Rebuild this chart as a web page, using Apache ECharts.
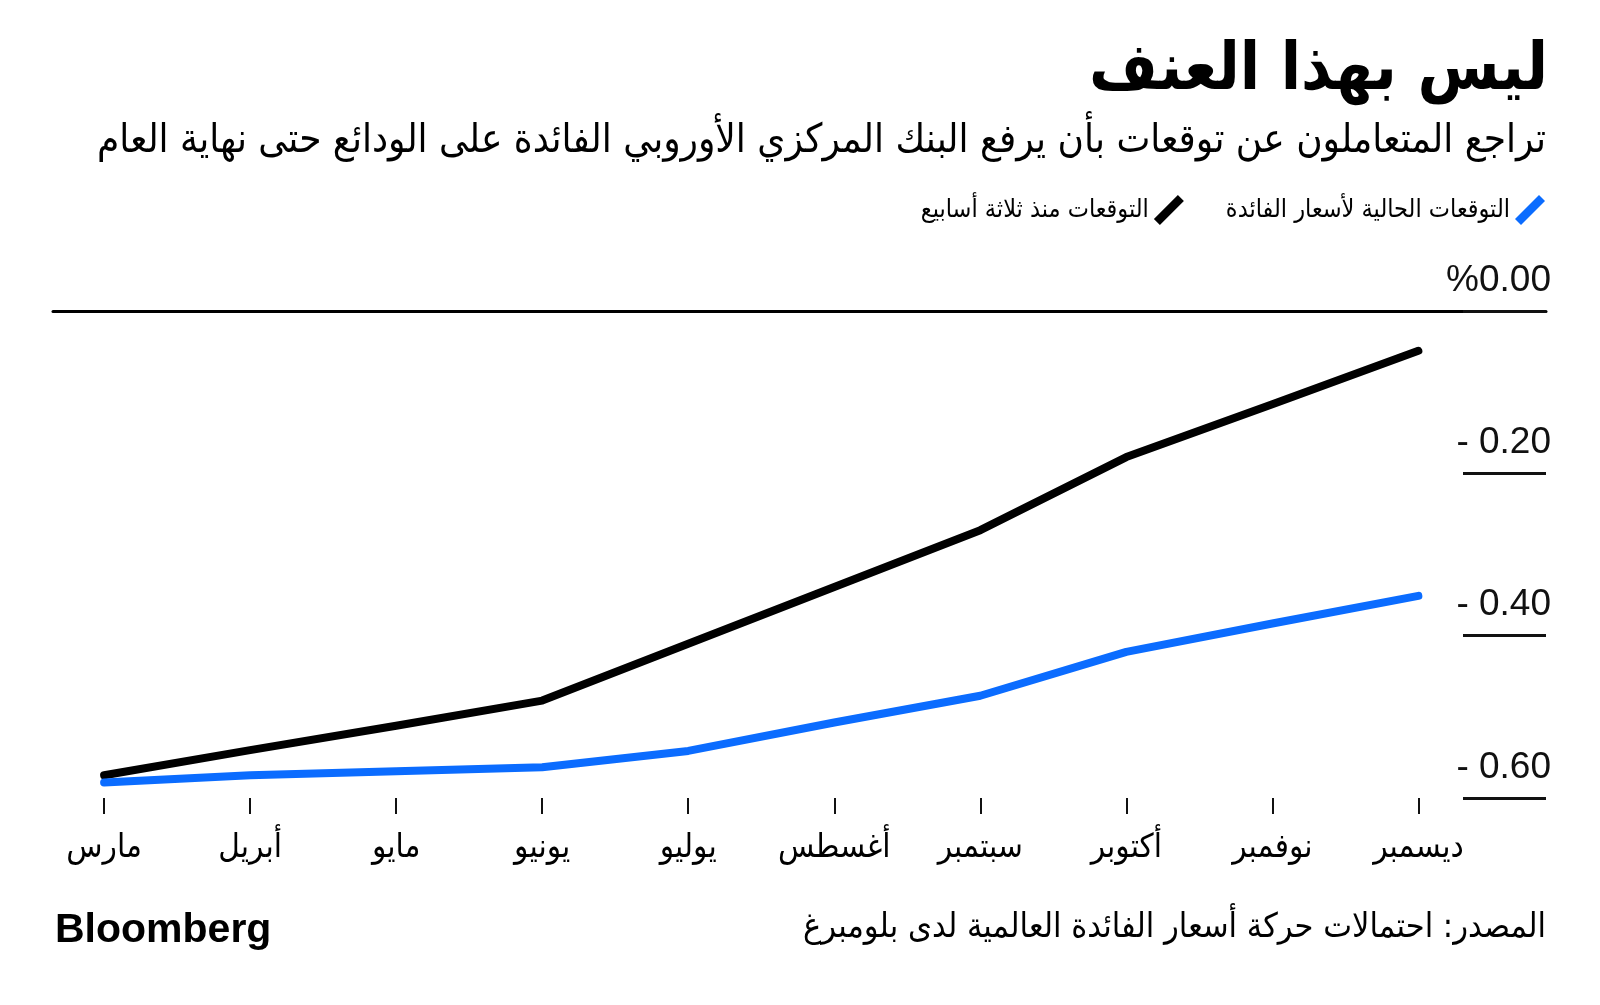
<!DOCTYPE html>
<html>
<head>
<meta charset="utf-8">
<script src="https://cdn.jsdelivr.net/npm/echarts@6/dist/echarts.min.js"></script>
<style>
    html, body { margin: 0; padding: 0; background: #fff; }
    #chart { width: 1600px; height: 1005px; }
</style>
</head>
<body>
<div id="chart"></div>
<script>
const months = ["مارس", "أبريل", "مايو", "يونيو", "يوليو", "أغسطس", "سبتمبر", "أكتوبر", "نوفمبر", "ديسمبر"];
const threeWeeksAgo = [-0.572, -0.541, -0.511, -0.480, -0.410, -0.340, -0.270, -0.180, -0.115, -0.049];
const currentPricing = [-0.581, -0.572, -0.567, -0.562, -0.542, -0.507, -0.474, -0.420, -0.385, -0.351];
const yTicks = [0, -0.2, -0.4, -0.6];

const seriesNames = {
    old: "التوقعات منذ ثلاثة أسابيع",
    now: "التوقعات الحالية لأسعار الفائدة"
};

const arabicFont = "'DejaVu Sans Condensed', 'DejaVu Sans', sans-serif";
const latinFont = "'Liberation Sans', Arial, sans-serif";
const slashIcon = "path://M0,24 L24,0 L30,6 L6,30 Z";

const monthIdx = months.map((m, i) => i);
const chart = echarts.init(document.getElementById("chart"));

chart.setOption({
    backgroundColor: "#ffffff",
    animation: false,
    title: [
        {
            text: "ليس بهذا العنف",
            right: 47,
            top: 28,
            textStyle: { fontFamily: arabicFont, fontSize: 66, fontWeight: "bold", color: "#000", lineHeight: 78 }
        },
        {
            text: "تراجع المتعاملون عن توقعات بأن يرفع البنك المركزي الأوروبي الفائدة على الودائع حتى نهاية العام",
            right: 49,
            top: 111,
            textStyle: { fontFamily: arabicFont, fontSize: 40, fontWeight: "normal", color: "#000", lineHeight: 52 }
        },
        {
            text: "المصدر: احتمالات حركة أسعار الفائدة العالمية لدى بلومبرغ",
            right: 49,
            top: 900,
            textStyle: { fontFamily: arabicFont, fontSize: 34, fontWeight: "normal", color: "#000", lineHeight: 46 }
        },
        {
            text: "Bloomberg",
            left: 50,
            top: 904,
            textStyle: { fontFamily: latinFont, fontSize: 41, fontWeight: 900, color: "#000", lineHeight: 44 }
        }
    ],
    legend: {
        right: 50,
        top: 190,
        align: "right",
        itemWidth: 30,
        itemHeight: 30,
        itemGap: 42,
        textStyle: { fontFamily: arabicFont, fontSize: 25, color: "#000" },
        data: [
            { name: seriesNames.old, icon: slashIcon, itemStyle: { color: "#000" } },
            { name: seriesNames.now, icon: slashIcon, itemStyle: { color: "#0b6cff" } }
        ]
    },
    grid: { left: 53, right: 54, top: 311, bottom: 207 },
    xAxis: [
        {
            type: "value",
            min: -0.35,
            max: 9.874,
            splitLine: { show: false },
            axisLine: { show: false, onZero: false },
            axisTick: {
                show: true,
                customValues: monthIdx,
                length: 16,
                lineStyle: { color: "#111", width: 2 }
            },
            axisLabel: {
                customValues: monthIdx,
                formatter: v => months[Math.round(v)],
                margin: 34,
                fontFamily: arabicFont,
                fontSize: 33,
                color: "#000"
            }
        },
        {
            type: "value",
            position: "top",
            min: -0.35,
            max: 9.874,
            splitLine: { show: false },
            axisLine: { show: true, onZero: false, lineStyle: { color: "#000", width: 3 } },
            axisTick: { show: false },
            axisLabel: { show: false }
        }
    ],
    yAxis: {
        type: "value",
        position: "right",
        min: -0.6,
        max: 0,
        interval: 0.2,
        splitLine: { show: false },
        axisLine: { show: false, onZero: false },
        axisTick: {
            show: true,
            inside: true,
            length: 83,
            lineStyle: { color: "#111", width: 3 }
        },
        axisLabel: {
            inside: true,
            margin: -5,
            verticalAlign: "bottom",
            padding: [0, 0, 12, 0],
            fontFamily: latinFont,
            fontSize: 37,
            color: "#111",
            formatter: v => yTicks.includes(Number(v.toFixed(1)))
                ? (Math.abs(v) < 1e-9 ? "%0.00" : "- " + Math.abs(v).toFixed(2))
                : ""
        }
    },
    series: [
        {
            name: seriesNames.old,
            type: "line",
            xAxisIndex: 0,
            symbol: "none",
            lineStyle: { color: "#000", width: 8, cap: "round", join: "round" },
            itemStyle: { color: "#000" },
            data: threeWeeksAgo.map((v, i) => [i, v])
        },
        {
            name: seriesNames.now,
            type: "line",
            xAxisIndex: 0,
            symbol: "none",
            lineStyle: { color: "#0b6cff", width: 8, cap: "round", join: "round" },
            itemStyle: { color: "#0b6cff" },
            data: currentPricing.map((v, i) => [i, v])
        }
    ]
});

window.addEventListener("resize", () => chart.resize());
</script>
</body>
</html>
